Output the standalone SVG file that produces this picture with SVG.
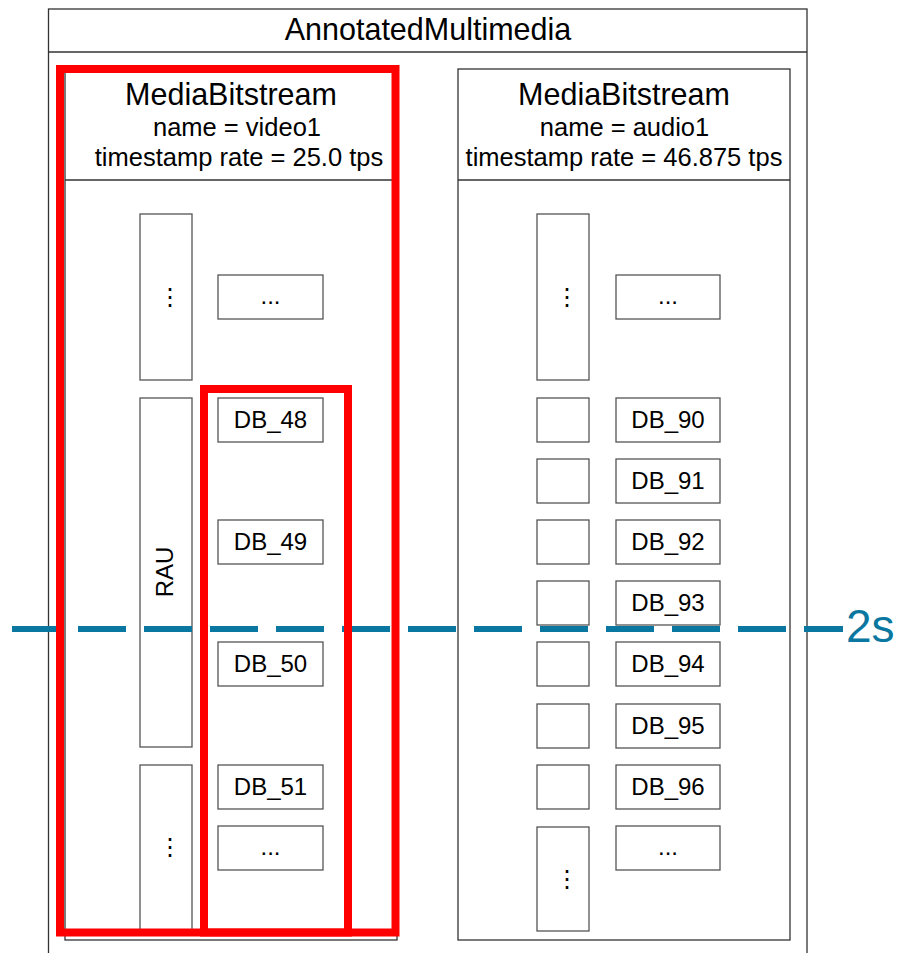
<svg xmlns="http://www.w3.org/2000/svg" width="897" height="953" viewBox="0 0 897 953">
<style>
text{font-family:"Liberation Sans",Arial,sans-serif;fill:#000}
.box{fill:#fff;stroke:#555;stroke-width:1.3}
.frame{fill:none;stroke:#333;stroke-width:1.3}
.big{font-size:30.5px;text-anchor:middle}
.sub{font-size:25.5px;text-anchor:middle}
.lbl{font-size:24px;text-anchor:middle}
.red{fill:none;stroke:#ff0000;stroke-width:8}
</style>
<rect width="897" height="953" fill="#fff"/>
<g id="annotated-multimedia">
<rect class="frame" x="48.5" y="9" width="758.5" height="960"/>
<line class="frame" x1="48.5" y1="52" x2="807" y2="52"/>
<text class="big" x="428" y="40">AnnotatedMultimedia</text>
</g>
<g id="video-bitstream">
<rect class="frame" x="65" y="69" width="332" height="871"/>
<line class="frame" x1="65" y1="180" x2="397" y2="180"/>
<text class="big" x="231" y="105">MediaBitstream</text>
<text class="sub" x="237" y="136">name = video1</text>
<text class="sub" x="239" y="166">timestamp rate = 25.0 tps</text>
</g>
<g id="audio-bitstream">
<rect class="frame" x="458" y="69" width="332" height="871"/>
<line class="frame" x1="458" y1="180" x2="790" y2="180"/>
<text class="big" x="624" y="105">MediaBitstream</text>
<text class="sub" x="624.5" y="136">name = audio1</text>
<text class="sub" x="624" y="166">timestamp rate = 46.875 tps</text>
</g>
<g id="video-rau-column">
<g id="v-rau-top"><rect class="box" x="140" y="214" width="52" height="166"/><text class="lbl" x="170" y="305">⋮</text></g>
<g id="v-rau"><rect class="box" x="140" y="398" width="52" height="349"/><text class="lbl" transform="translate(173 572) rotate(-90)">RAU</text></g>
<g id="v-rau-bottom"><rect class="box" x="140" y="765" width="52" height="170"/><text class="lbl" x="170" y="855">⋮</text></g>
</g>
<g id="video-db-column">
<g id="v-db-top"><rect class="box" x="218" y="275" width="105" height="44"/><text class="lbl" x="270.5" y="304">...</text></g>
<g id="db48"><rect class="box" x="218" y="398" width="105" height="44"/><text class="lbl" x="270.5" y="428">DB_48</text></g>
<g id="db49"><rect class="box" x="218" y="520" width="105" height="44"/><text class="lbl" x="270.5" y="550">DB_49</text></g>
<g id="db50"><rect class="box" x="218" y="642" width="105" height="44"/><text class="lbl" x="270.5" y="672">DB_50</text></g>
<g id="db51"><rect class="box" x="218" y="765" width="105" height="44"/><text class="lbl" x="270.5" y="795">DB_51</text></g>
<g id="v-db-bottom"><rect class="box" x="218" y="826" width="105" height="44"/><text class="lbl" x="270.5" y="855">...</text></g>
</g>
<g id="audio-au-column">
<g id="a-au-top"><rect class="box" x="537" y="214" width="52" height="166"/><text class="lbl" x="567" y="305">⋮</text></g>
<rect id="au90" class="box" x="537" y="398" width="52" height="44"/>
<rect id="au91" class="box" x="537" y="459" width="52" height="44"/>
<rect id="au92" class="box" x="537" y="520" width="52" height="44"/>
<rect id="au93" class="box" x="537" y="581" width="52" height="44"/>
<rect id="au94" class="box" x="537" y="642" width="52" height="44"/>
<rect id="au95" class="box" x="537" y="704" width="52" height="44"/>
<rect id="au96" class="box" x="537" y="765" width="52" height="44"/>
<g id="a-au-bottom"><rect class="box" x="537" y="827" width="52" height="104"/><text class="lbl" x="567" y="887">⋮</text></g>
</g>
<g id="audio-db-column">
<g id="a-db-top"><rect class="box" x="616" y="275" width="104" height="44"/><text class="lbl" x="668" y="304">...</text></g>
<g id="db90"><rect class="box" x="616" y="398" width="104" height="44"/><text class="lbl" x="668" y="428">DB_90</text></g>
<g id="db91"><rect class="box" x="616" y="459" width="104" height="44"/><text class="lbl" x="668" y="489">DB_91</text></g>
<g id="db92"><rect class="box" x="616" y="520" width="104" height="44"/><text class="lbl" x="668" y="550">DB_92</text></g>
<g id="db93"><rect class="box" x="616" y="581" width="104" height="44"/><text class="lbl" x="668" y="611">DB_93</text></g>
<g id="db94"><rect class="box" x="616" y="642" width="104" height="44"/><text class="lbl" x="668" y="672">DB_94</text></g>
<g id="db95"><rect class="box" x="616" y="704" width="104" height="44"/><text class="lbl" x="668" y="734">DB_95</text></g>
<g id="db96"><rect class="box" x="616" y="765" width="104" height="44"/><text class="lbl" x="668" y="795">DB_96</text></g>
<g id="a-db-bottom"><rect class="box" x="616" y="826" width="104" height="44"/><text class="lbl" x="668" y="855">...</text></g>
</g>
<g id="connectors">
<line x1="12" y1="629" x2="843" y2="629" stroke="#0a77a0" stroke-width="6" stroke-dasharray="48 18"/>
<text x="846" y="642" font-size="46" fill="#0a77a0" style="fill:#0a77a0">2s</text>
</g>
<g id="highlights">
<rect class="red" x="60" y="69" width="335.5" height="863.5"/>
<rect class="red" x="204" y="389" width="144" height="543.5"/>
</g>
</svg>
